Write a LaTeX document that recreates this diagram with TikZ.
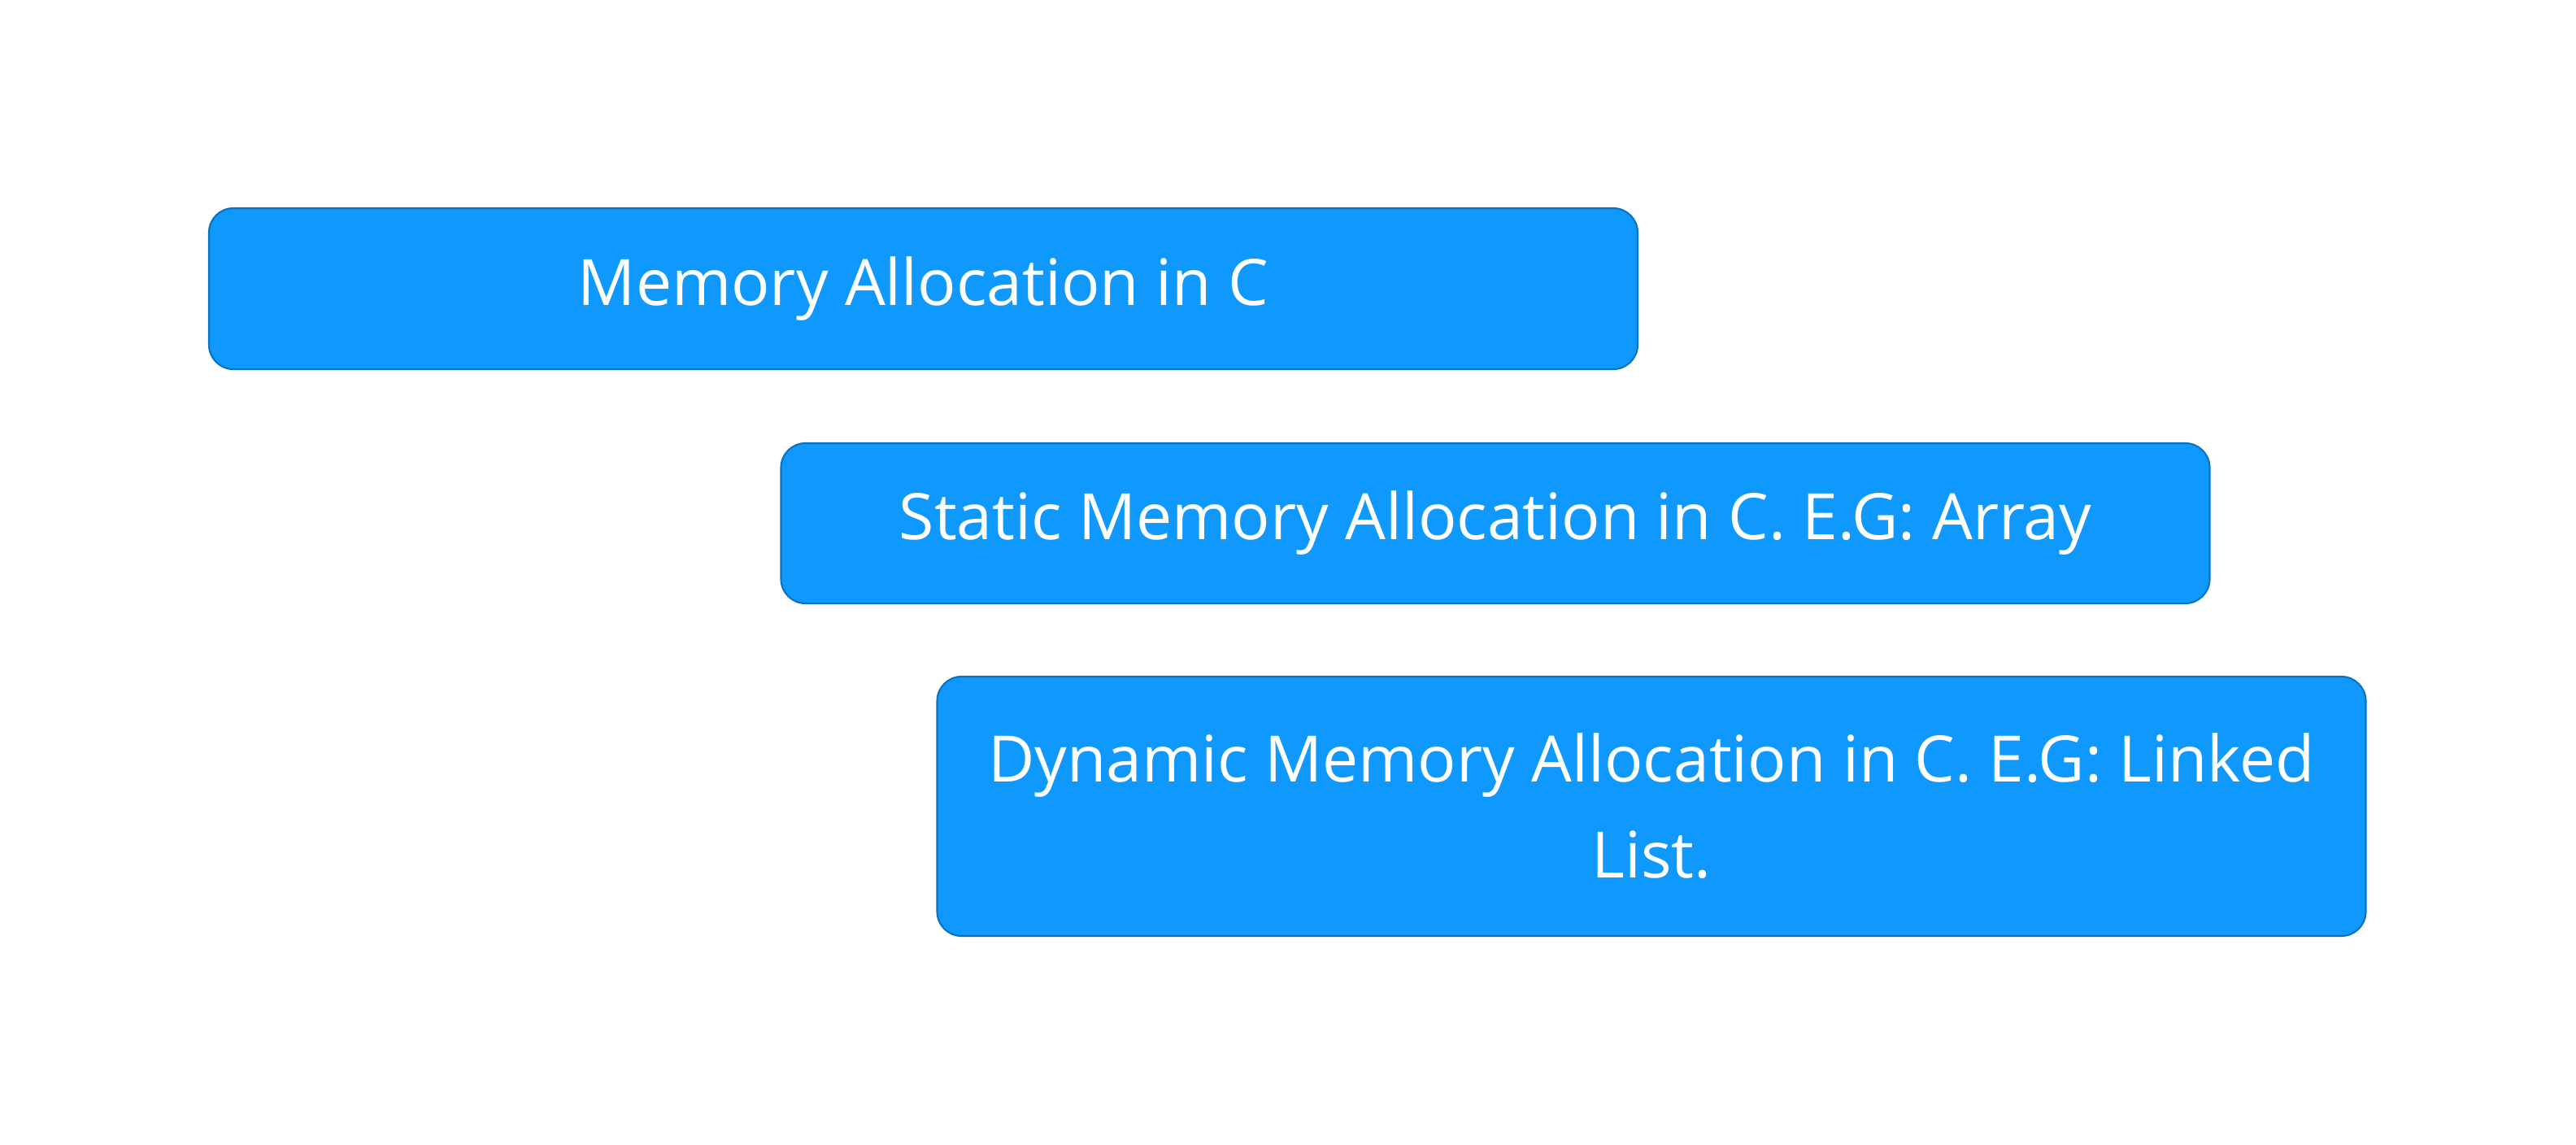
\documentclass[tikz,border=0pt]{standalone}
\usepackage{fontspec}
\setmainfont{Open Sans}
\usepackage{xcolor}
\usepackage{tikz}
\usetikzlibrary{positioning}
\definecolor{cajaazul}{HTML}{0F99FF}
\definecolor{bordeazul}{HTML}{0A72BD}
\tikzset{
  caja/.style={fill=cajaazul,draw=bordeazul,line width=0.6pt,rounded corners=0.3cm,
    minimum width=17.57cm,text=white,align=center,inner sep=0pt,
    font=\fontsize{22.4}{33.5}\selectfont}
}
\begin{document}
\begin{tikzpicture}
\useasboundingbox (0,0) rectangle (31.68,14.08);
% cajas de memoria
\node[caja,minimum height=1.98cm] (mem) at (11.355,10.53) {Memory Allocation in C};
\node[caja,minimum height=1.97cm] (estatica) at (18.39,7.645) {Static Memory Allocation in C. E.G: Array};
\node[caja,minimum height=3.19cm] (dinamica) at (20.31,4.165) {Dynamic Memory Allocation in C. E.G: Linked\\List.};
\end{tikzpicture}
\end{document}
